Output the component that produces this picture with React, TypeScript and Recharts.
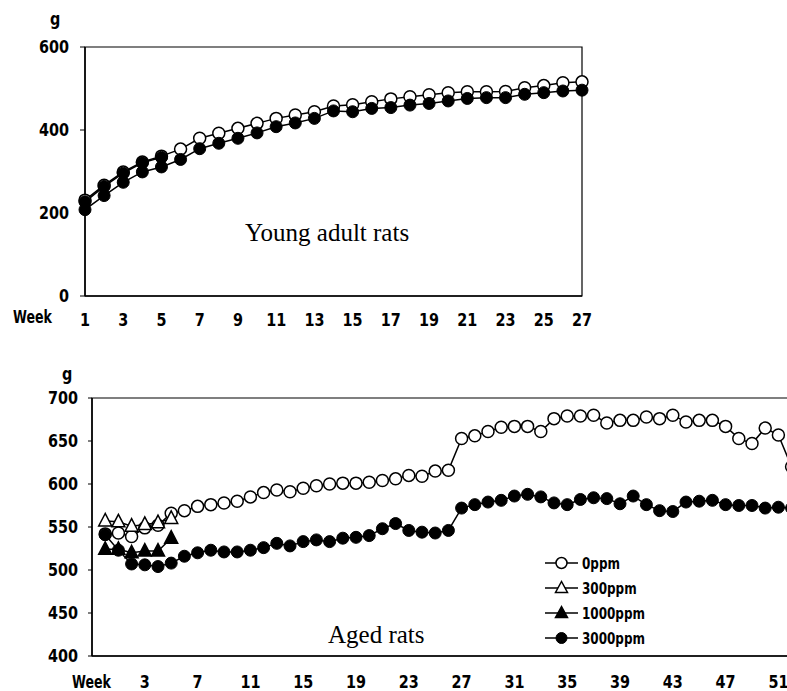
import React from 'react';
import { LineChart, Line, XAxis, YAxis, ReferenceArea, Legend } from 'recharts';

// ---------- Young adult rats (weeks 1-27) ----------
const youngWeeks = [1, 2, 3, 4, 5, 6, 7, 8, 9, 10, 11, 12, 13, 14, 15, 16, 17, 18, 19, 20, 21, 22, 23, 24, 25, 26, 27];
const youngCtrl = [231, 267, 299, 323, 337, 354, 380, 392, 404, 416, 428, 436, 444, 458, 461, 468, 475, 480, 485, 490, 492, 492, 493, 502, 507, 514, 516];
const youngMid = [227, 264, 296, 321, 334];
const youngHigh = [208, 242, 274, 299, 311, 329, 355, 368, 380, 393, 408, 417, 428, 446, 444, 452, 454, 460, 464, 470, 476, 478, 478, 486, 490, 494, 496];
const youngXTicks = [1, 3, 5, 7, 9, 11, 13, 15, 17, 19, 21, 23, 25, 27];
const youngYTicks = [0, 200, 400, 600];

// ---------- Aged rats (weeks 0-52) ----------
const agedWeeks = [0, 1, 2, 3, 4, 5, 6, 7, 8, 9, 10, 11, 12, 13, 14, 15, 16, 17, 18, 19, 20, 21, 22, 23, 24, 25, 26, 27, 28, 29, 30, 31, 32, 33, 34, 35, 36, 37, 38, 39, 40, 41, 42, 43, 44, 45, 46, 47, 48, 49, 50, 51, 52];
const aged0 = [542, 543, 539, 549, 552, 566, 569, 574, 576, 578, 580, 585, 590, 593, 591, 595, 598, 600, 601, 601, 602, 604, 606, 610, 609, 615, 616, 653, 656, 661, 666, 667, 667, 661, 676, 679, 679, 680, 671, 674, 674, 678, 676, 680, 672, 674, 674, 667, 653, 647, 665, 657, 620];
const aged300 = [557, 556, 551, 553, 555, 560];
const aged1000 = [524, 524, 520, 522, 522, 537];
const aged3000 = [541, 523, 507, 506, 504, 508, 516, 520, 523, 521, 521, 523, 526, 531, 528, 533, 535, 533, 537, 538, 540, 548, 554, 546, 544, 543, 546, 572, 576, 579, 581, 586, 588, 585, 578, 576, 582, 584, 583, 577, 586, 576, 569, 568, 579, 580, 581, 576, 575, 575, 572, 573, 572];
const agedXTicks = [3, 7, 11, 15, 19, 23, 27, 31, 35, 39, 43, 47, 51];
const agedYTicks = [400, 450, 500, 550, 600, 650, 700];
const agedSeriesNames = ['0ppm', '300ppm', '1000ppm', '3000ppm'];

const youngData = youngWeeks.map((w, i) => ({
  week: w,
  ctrl: youngCtrl[i],
  mid: i < youngMid.length ? youngMid[i] : null,
  high: youngHigh[i],
}));

const agedData = agedWeeks.map((w, i) => ({
  week: w,
  d0: aged0[i],
  d300: i < aged300.length ? aged300[i] : null,
  d1000: i < aged1000.length ? aged1000[i] : null,
  d3000: aged3000[i],
}));

const TICK_FONT = '"DejaVu Sans", sans-serif';

function YTick(props: any) {
  const { x, y, payload } = props;
  return (
    <text
      transform={`translate(${x},${y}) scale(0.8,1)`}
      textAnchor="end"
      dominantBaseline="central"
      fontFamily={TICK_FONT}
      fontWeight="bold"
      fontSize={18}
      fill="#000"
    >
      {payload.value}
    </text>
  );
}

function XTick(props: any) {
  const { x, y, payload } = props;
  return (
    <text
      transform={`translate(${x},${y}) scale(0.8,1)`}
      textAnchor="middle"
      dominantBaseline="central"
      fontFamily={TICK_FONT}
      fontWeight="bold"
      fontSize={18}
      fill="#000"
    >
      {payload.value}
    </text>
  );
}

const openCircle = { r: 6, fill: '#fff', stroke: '#000', strokeWidth: 1.5 };
const filledCircle = { r: 6, fill: '#000', stroke: '#000', strokeWidth: 1 };

const makeTriangle = (filled: boolean) => (props: any) => {
  const { cx, cy, index } = props;
  if (cx == null || cy == null || Number.isNaN(cy)) return <g key={`t-${filled}-${index}`} />;
  const pts = `${cx},${cy - 7.5} ${cx - 6.5},${cy + 5} ${cx + 6.5},${cy + 5}`;
  return (
    <polygon
      key={`t-${filled}-${index}`}
      points={pts}
      fill={filled ? '#000' : '#fff'}
      stroke="#000"
      strokeWidth={1.5}
    />
  );
};

function LegendMarker({ name, cx, cy }: { name: string; cx: number; cy: number }) {
  if (name === '0ppm') return <circle cx={cx} cy={cy} r={5.5} fill="#fff" stroke="#000" strokeWidth={1.5} />;
  if (name === '3000ppm') return <circle cx={cx} cy={cy} r={5.5} fill="#000" stroke="#000" />;
  const filled = name === '1000ppm';
  return (
    <polygon
      points={`${cx},${cy - 6.5} ${cx - 6},${cy + 4.5} ${cx + 6},${cy + 4.5}`}
      fill={filled ? '#000' : '#fff'}
      stroke="#000"
      strokeWidth={1.5}
    />
  );
}

function AgedLegend(props: any) {
  const payload = (props.payload || []).slice().sort(
    (a: any, b: any) => agedSeriesNames.indexOf(a.value) - agedSeriesNames.indexOf(b.value)
  );
  return (
    <svg width={130} height={100} style={{ display: 'block' }}>
      {payload.map((p: any, i: number) => {
        const cy = 8 + i * 25;
        return (
          <g key={p.value}>
            <line x1={0} x2={33} y1={cy} y2={cy} stroke="#000" strokeWidth={1.5} />
            <LegendMarker name={p.value} cx={16.5} cy={cy} />
            <text
              transform={`translate(37,${cy}) scale(0.75,1)`}
              textAnchor="start"
              dominantBaseline="central"
              fontFamily={TICK_FONT}
              fontWeight="bold"
              fontSize={16}
              fill="#000"
            >
              {p.value}
            </text>
          </g>
        );
      })}
    </svg>
  );
}

function GothicLabel({ text, left, center, size = 18, sx = 0.72 }: { text: string; left: number; center: number; size?: number; sx?: number }) {
  return (
    <div
      style={{
        position: 'absolute',
        left,
        top: center - size / 2,
        fontFamily: TICK_FONT,
        fontWeight: 'bold',
        fontSize: size,
        lineHeight: `${size}px`,
        transform: `scaleX(${sx})`,
        transformOrigin: 'left center',
        whiteSpace: 'nowrap',
        color: '#000',
      }}
    >
      {text}
    </div>
  );
}

function SerifLabel({ text, left, top, size }: { text: string; left: number; top: number; size: number }) {
  return (
    <div
      style={{
        position: 'absolute',
        left,
        top,
        fontFamily: '"Liberation Serif", "Times New Roman", serif',
        fontSize: size,
        lineHeight: `${size}px`,
        whiteSpace: 'nowrap',
        color: '#000',
      }}
    >
      {text}
    </div>
  );
}

export default function App() {
  return (
    <div style={{ position: 'absolute', left: 0, top: 0, width: 787, height: 691, overflow: 'hidden', background: '#fff' }}>
      <div style={{ position: 'absolute', left: 0, top: 0 }}>
        <LineChart width={787} height={340} data={youngData} margin={{ top: 47, right: 205, bottom: 14, left: 25 }}>
          <XAxis
            dataKey="week"
            type="number"
            domain={[1, 27]}
            ticks={youngXTicks}
            interval={0}
            height={30}
            tickLine={false}
            tickSize={0}
            tickMargin={24}
            tick={<XTick />}
            axisLine={{ stroke: '#000', strokeWidth: 1.5 }}
          />
          <YAxis
            type="number"
            domain={[0, 600]}
            ticks={youngYTicks}
            interval={0}
            width={60}
            tickSize={5}
            tickMargin={11}
            tickLine={{ stroke: '#000' }}
            tick={<YTick />}
            axisLine={{ stroke: '#000', strokeWidth: 1.5 }}
          />
          <ReferenceArea x1={1} x2={27} y1={0} y2={600} fill="none" fillOpacity={0} stroke="#000" strokeWidth={1.2} ifOverflow="visible" />
          <Line dataKey="ctrl" name="0ppm" stroke="#000" strokeWidth={1.5} dot={openCircle} activeDot={false} isAnimationActive={false} />
          <Line dataKey="high" name="3000ppm" stroke="#000" strokeWidth={1.5} dot={filledCircle} activeDot={false} isAnimationActive={false} />
          <Line dataKey="mid" name="1000ppm" stroke="#000" strokeWidth={1.5} dot={filledCircle} activeDot={false} isAnimationActive={false} />
        </LineChart>
      </div>

      <div style={{ position: 'absolute', left: 0, top: 340 }}>
        <LineChart width={830} height={351} data={agedData} margin={{ top: 58, right: 12, bottom: 5, left: 32 }}>
          <XAxis
            dataKey="week"
            type="number"
            domain={[-1, 54]}
            ticks={agedXTicks}
            interval={0}
            height={30}
            tickLine={false}
            tickSize={0}
            tickMargin={26}
            tick={<XTick />}
            axisLine={{ stroke: '#000', strokeWidth: 1.5 }}
          />
          <YAxis
            type="number"
            domain={[400, 700]}
            ticks={agedYTicks}
            interval={0}
            width={60}
            tickSize={4}
            tickMargin={10}
            tickLine={{ stroke: '#000' }}
            tick={<YTick />}
            axisLine={{ stroke: '#000', strokeWidth: 1.5 }}
          />
          <ReferenceArea x1={-1} x2={54} y1={400} y2={700} fill="none" fillOpacity={0} stroke="#000" strokeWidth={1.2} ifOverflow="visible" />
          <Legend
            layout="horizontal"
            verticalAlign="middle"
            align="center"
            content={<AgedLegend />}
            wrapperStyle={{ position: 'absolute', left: 545, top: 215, width: 130, height: 100 }}
          />
          <Line dataKey="d0" name="0ppm" stroke="#000" strokeWidth={1.5} dot={openCircle} activeDot={false} isAnimationActive={false} />
          <Line dataKey="d300" name="300ppm" stroke="#000" strokeWidth={1.5} dot={makeTriangle(false)} activeDot={false} isAnimationActive={false} />
          <Line dataKey="d1000" name="1000ppm" stroke="#000" strokeWidth={1.5} dot={makeTriangle(true)} activeDot={false} isAnimationActive={false} />
          <Line dataKey="d3000" name="3000ppm" stroke="#000" strokeWidth={1.5} dot={filledCircle} activeDot={false} isAnimationActive={false} />
        </LineChart>
      </div>

      <GothicLabel text="g" left={50} center={19} size={17} sx={0.85} />
      <GothicLabel text="Week" left={13} center={317} size={18} sx={0.7} />
      <GothicLabel text="g" left={62} center={374} size={17} sx={0.85} />
      <GothicLabel text="Week" left={72} center={682} size={18} sx={0.7} />
      <SerifLabel text="Young adult rats" left={245} top={220} size={25} />
      <SerifLabel text="Aged rats" left={328} top={622} size={25} />
    </div>
  );
}
